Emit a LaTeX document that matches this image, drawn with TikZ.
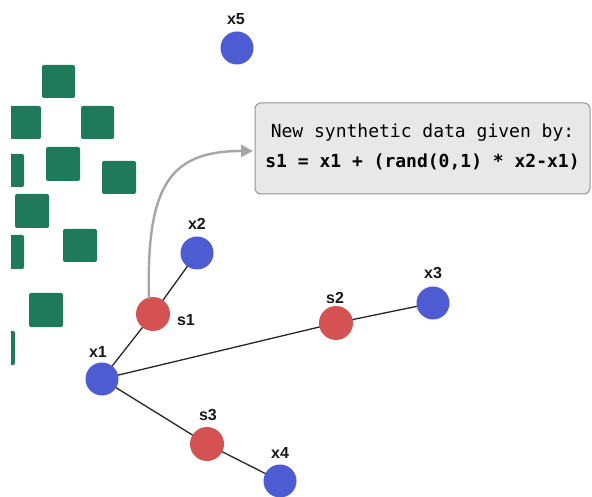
\documentclass[tikz,border=0pt]{standalone}
\usepackage{fontspec}
\setmainfont{Liberation Sans}
\newfontfamily\codefont{DejaVu Sans Mono}
\usetikzlibrary{arrows.meta}
\pgfdeclarelayer{background}
\pgfsetlayers{background,main}
\definecolor{ptblue}{RGB}{78,92,212}
\definecolor{ptred}{RGB}{212,82,82}
\definecolor{ptgreen}{RGB}{31,122,92}
\definecolor{boxfill}{RGB}{232,232,232}
\definecolor{boxline}{RGB}{150,150,150}
\definecolor{arrowgray}{RGB}{165,165,165}
\tikzset{
  orig/.style={circle, fill=ptblue, minimum size=33pt, inner sep=0pt},
  synth/.style={circle, fill=ptred, minimum size=34pt, inner sep=0pt},
  lbl/.style={font=\fontsize{16}{19}\selectfont\bfseries, text=black!90, inner sep=0pt},
  link/.style={draw=black!85, line width=1.3pt},
  sample/.style={fill=ptgreen, rounded corners=2pt},
  infobox/.style={draw=boxline, fill=boxfill, line width=1pt, rounded corners=6pt},
  code/.style={font=\codefont\fontsize{18}{20}\selectfont, inner sep=0pt},
}
\begin{document}
\begin{tikzpicture}[x=1pt, y=-1pt]
  \useasboundingbox (0,0) rectangle (592,497);
  \begin{pgfonlayer}{background}
    \fill[white] (0,0) rectangle (592,497);
  \end{pgfonlayer}

  % majority-class samples (cut off at the left edge)
  \begin{scope}
    \clip (11,0) rectangle (592,497);
    \fill[sample] (42,65) rectangle (75,98);
    \fill[sample] (8,106) rectangle (41,139);
    \fill[sample] (81,106) rectangle (114,139);
    \fill[sample] (-9,154) rectangle (24,187);
    \fill[sample] (46,147) rectangle (80,181);
    \fill[sample] (102,161) rectangle (136,194);
    \fill[sample] (15,194) rectangle (49,228);
    \fill[sample] (-9,235) rectangle (24,269);
    \fill[sample] (63,229) rectangle (97,262);
    \fill[sample] (29,293) rectangle (63,327);
    \fill[sample] (-18,331) rectangle (15,365);
  \end{scope}

  % explanation box
  \draw[infobox] (255,103) rectangle (590,194);
  \node[code] (t1) at (422.5,133) {New synthetic data given by:};
  \node[code, font=\codefont\fontsize{18}{20}\selectfont\bfseries] (t2) at (422.5,162) {s1 = x1 + (rand(0,1) * x2-x1)};
  \coordinate (boxin) at (253,151);

  % minority-class points and synthetic points
  \node[orig] (x5) at (237,48) {};
  \node[orig] (x2) at (197,253) {};
  \node[orig] (x1) at (102,379) {};
  \node[orig] (x3) at (433,303) {};
  \node[orig] (x4) at (280,481) {};
  \node[synth] (s1) at (153,314) {};
  \node[synth] (s2) at (336,323) {};
  \node[synth] (s3) at (207,444) {};

  % interpolation segments, behind the points
  \begin{pgfonlayer}{background}
    \draw[link] (x1.center) -- (s1.center);
    \draw[link] (s1.center) -- (x2.center);
    \draw[link] (x1.center) -- (s2.center);
    \draw[link] (s2.center) -- (x3.center);
    \draw[link] (x1.center) -- (s3.center);
    \draw[link] (s3.center) -- (x4.center);
  \end{pgfonlayer}

  % arrow from s1 to the formula
  \draw[arrowgray, line width=2.4pt, -{Triangle[length=12pt,width=12pt]}]
    (s1.north) ++(-4,2) .. controls (146,185) and (170,151) .. (boxin);

  % labels
  \node[lbl] (lx5) at (236,19) {x5};
  \node[lbl] (lx2) at (197,224) {x2};
  \node[lbl] (lx1) at (98,352) {x1};
  \node[lbl] (lx3) at (433,273) {x3};
  \node[lbl] (lx4) at (280,453) {x4};
  \node[lbl] (ls1) at (186,320) {s1};
  \node[lbl] (ls2) at (335,298) {s2};
  \node[lbl] (ls3) at (208,415) {s3};
\end{tikzpicture}
\end{document}
